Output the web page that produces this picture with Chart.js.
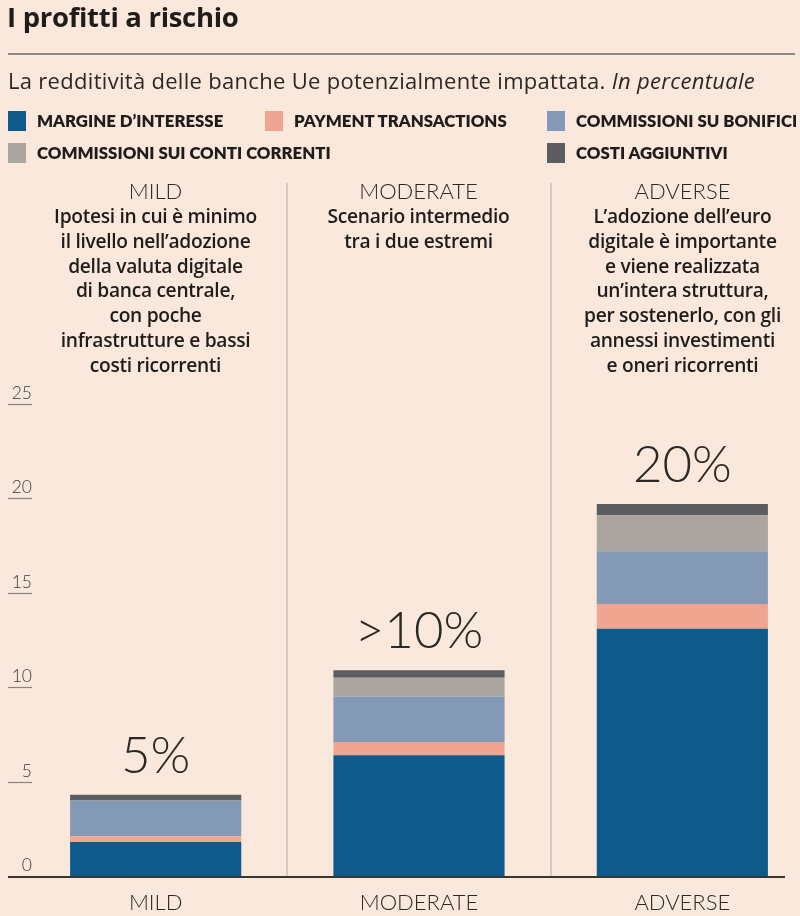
<!DOCTYPE html>
<html>
<head>
<meta charset="utf-8">
<script src="https://cdn.jsdelivr.net/npm/chart.js@4/dist/chart.umd.min.js"></script>
<style>
  html, body { margin: 0; padding: 0; }
  body { width: 800px; height: 916px; overflow: hidden; position: relative; background: #f9e8db; color: #2b2825; }
  .abs { position: absolute; }
  #title { left: 7px; top: -2px; font-family: "Open Sans", sans-serif; font-weight: 700; font-size: 27.5px; letter-spacing: -0.3px; color: #1f1c1a; }
  #rule { left: 8px; top: 53px; width: 787px; height: 2px; background: #8f8983; }
  #subtitle { left: 8px; top: 65px; font-family: "Open Sans", sans-serif; font-size: 22px; letter-spacing: 0.3px; color: #2b2825; }
  .leg { font-family: Lato, sans-serif; font-weight: 800; font-size: 16.8px; color: #1f1c1a; display: flex; align-items: center; white-space: nowrap; }
  .sw { width: 18px; height: 20px; margin-right: 11px; display: inline-block; }
  .scen { width: 262px; text-align: center; }
  .scen .h { font-family: Lato, sans-serif; font-weight: 300; font-size: 22px; line-height: 26px; color: #2b2825; }
  .scen .d { font-family: "Open Sans", sans-serif; font-weight: 600; font-size: 19.2px; line-height: 24.8px; letter-spacing: -0.3px; color: #1f1c1a; }
  #wrap { position: absolute; left: 0; top: 0; width: 816px; height: 916px; }
</style>
</head>
<body>
<div id="wrap"><canvas id="c"></canvas></div>
<div id="title" class="abs">I profitti a rischio</div>
<div id="rule" class="abs"></div>
<div id="subtitle" class="abs">La redditività delle banche Ue potenzialmente impattata. <i>In percentuale</i></div>
<div id="legend"></div>
<div id="scen"></div>
<script>
// ---- data ----
const categories = ['MILD', 'MODERATE', 'ADVERSE'];
const seriesNames = ["MARGINE D’INTERESSE", 'PAYMENT TRANSACTIONS', 'COMMISSIONI SU BONIFICI', 'COMMISSIONI SUI CONTI CORRENTI', 'COSTI AGGIUNTIVI'];
const margineInteresse = [1.8, 6.4, 13.1];
const paymentTransactions = [0.3, 0.7, 1.3];
const commissioniBonifici = [1.9, 2.4, 2.8];
const commissioniContiCorrenti = [0.0, 1.0, 1.9];
const costiAggiuntivi = [0.3, 0.4, 0.6];
const totalLabels = ['5%', '>10%', '20%'];
const yTickValues = [0, 5, 10, 15, 20, 25];
const scenarioTitles = ['MILD', 'MODERATE', 'ADVERSE'];
const scenarioTexts = [
  ['Ipotesi in cui è minimo', 'il livello  nell’adozione', 'della valuta digitale', 'di banca centrale,', 'con poche', 'infrastrutture e bassi', 'costi ricorrenti'],
  ['Scenario intermedio', 'tra i due estremi'],
  ['L’adozione dell’euro', 'digitale è importante', 'e viene realizzata', 'un’intera struttura,', 'per sostenerlo, con gli', 'annessi investimenti', 'e oneri ricorrenti']
];
const colors = ['#0e5a8b', '#efa590', '#8499b6', '#aba59f', '#5c5d5f'];
const seriesData = [margineInteresse, paymentTransactions, commissioniBonifici, commissioniContiCorrenti, costiAggiuntivi];

// ---- legend (HTML) ----
const legendPos = [[8, 110], [265, 110], [547, 110], [8, 142], [547, 142]];
const legendEl = document.getElementById('legend');
seriesNames.forEach((n, i) => {
  const d = document.createElement('div');
  d.className = 'abs leg';
  d.style.left = legendPos[i][0] + 'px';
  d.style.top = legendPos[i][1] + 'px';
  d.innerHTML = '<span class="sw" style="background:' + colors[i] + '"></span>' + n;
  legendEl.appendChild(d);
});

// ---- scenario headings (HTML) ----
const scenCenters = [155.5, 418.5, 682.5];
const scenEl = document.getElementById('scen');
scenarioTitles.forEach((t, i) => {
  const d = document.createElement('div');
  d.className = 'abs scen';
  d.style.left = (scenCenters[i] - 131) + 'px';
  d.style.top = '178px';
  d.innerHTML = '<div class="h">' + t + '</div><div class="d">' + scenarioTexts[i].join('<br>') + '</div>';
  scenEl.appendChild(d);
});

// ---- plugin: y ticks, baseline, totals ----
const extras = {
  id: 'extras',
  afterDatasetsDraw(chart) {
    const ctx = chart.ctx;
    const y = chart.scales.y, x = chart.scales.x;
    ctx.save();
    ctx.font = '300 17.5px Lato, sans-serif';
    ctx.fillStyle = '#3e3a36';
    ctx.textAlign = 'right';
    ctx.textBaseline = 'alphabetic';
    ctx.strokeStyle = '#8a847e';
    ctx.lineWidth = 1.2;
    yTickValues.forEach(v => {
      const py = Math.round(y.getPixelForValue(v)) + 0.5;
      if (v !== 0) {
        ctx.beginPath(); ctx.moveTo(8, py); ctx.lineTo(32, py); ctx.stroke();
      }
      ctx.fillText(String(v), 32, py - 6);
    });
    ctx.strokeStyle = '#3a3531';
    ctx.lineWidth = 2;
    const by = y.getPixelForValue(0) + 1;
    ctx.beginPath(); ctx.moveTo(8, by); ctx.lineTo(785, by); ctx.stroke();
    ctx.font = '300 51px Lato, sans-serif';
    ctx.fillStyle = '#2b2825';
    ctx.textAlign = 'center';
    categories.forEach((c, i) => {
      const total = seriesData.reduce((s, arr) => s + arr[i], 0);
      const px = x.getPixelForValue(i);
      const py = y.getPixelForValue(total);
      ctx.fillText(totalLabels[i], px, py - 22);
    });
    ctx.restore();
  }
};

new Chart(document.getElementById('c'), {
  type: 'bar',
  data: {
    labels: categories,
    datasets: seriesNames.map((n, i) => ({
      label: n,
      data: seriesData[i],
      backgroundColor: colors[i],
      borderWidth: 0,
      categoryPercentage: 1,
      barPercentage: 0.65
    }))
  },
  options: {
    responsive: true,
    maintainAspectRatio: false,
    animation: false,
    layout: { padding: { top: 183, left: 24, right: 2, bottom: 0 } },
    plugins: { legend: { display: false }, tooltip: { enabled: false } },
    scales: {
      x: {
        stacked: true,
        border: { display: false },
        afterFit: (s) => { s.height = 40; },
        grid: {
          offset: true,
          drawTicks: false,
          lineWidth: 2,
          color: (c) => (c.index === 1 || c.index === 2) ? '#d3cac1' : 'rgba(0,0,0,0)'
        },
        ticks: { color: '#2b2825', font: { family: 'Lato, sans-serif', weight: 300, size: 22 }, padding: 14 }
      },
      y: {
        stacked: true,
        display: false,
        min: 0,
        max: 36.7
      }
    }
  },
  plugins: [extras]
});
</script>
</body>
</html>
